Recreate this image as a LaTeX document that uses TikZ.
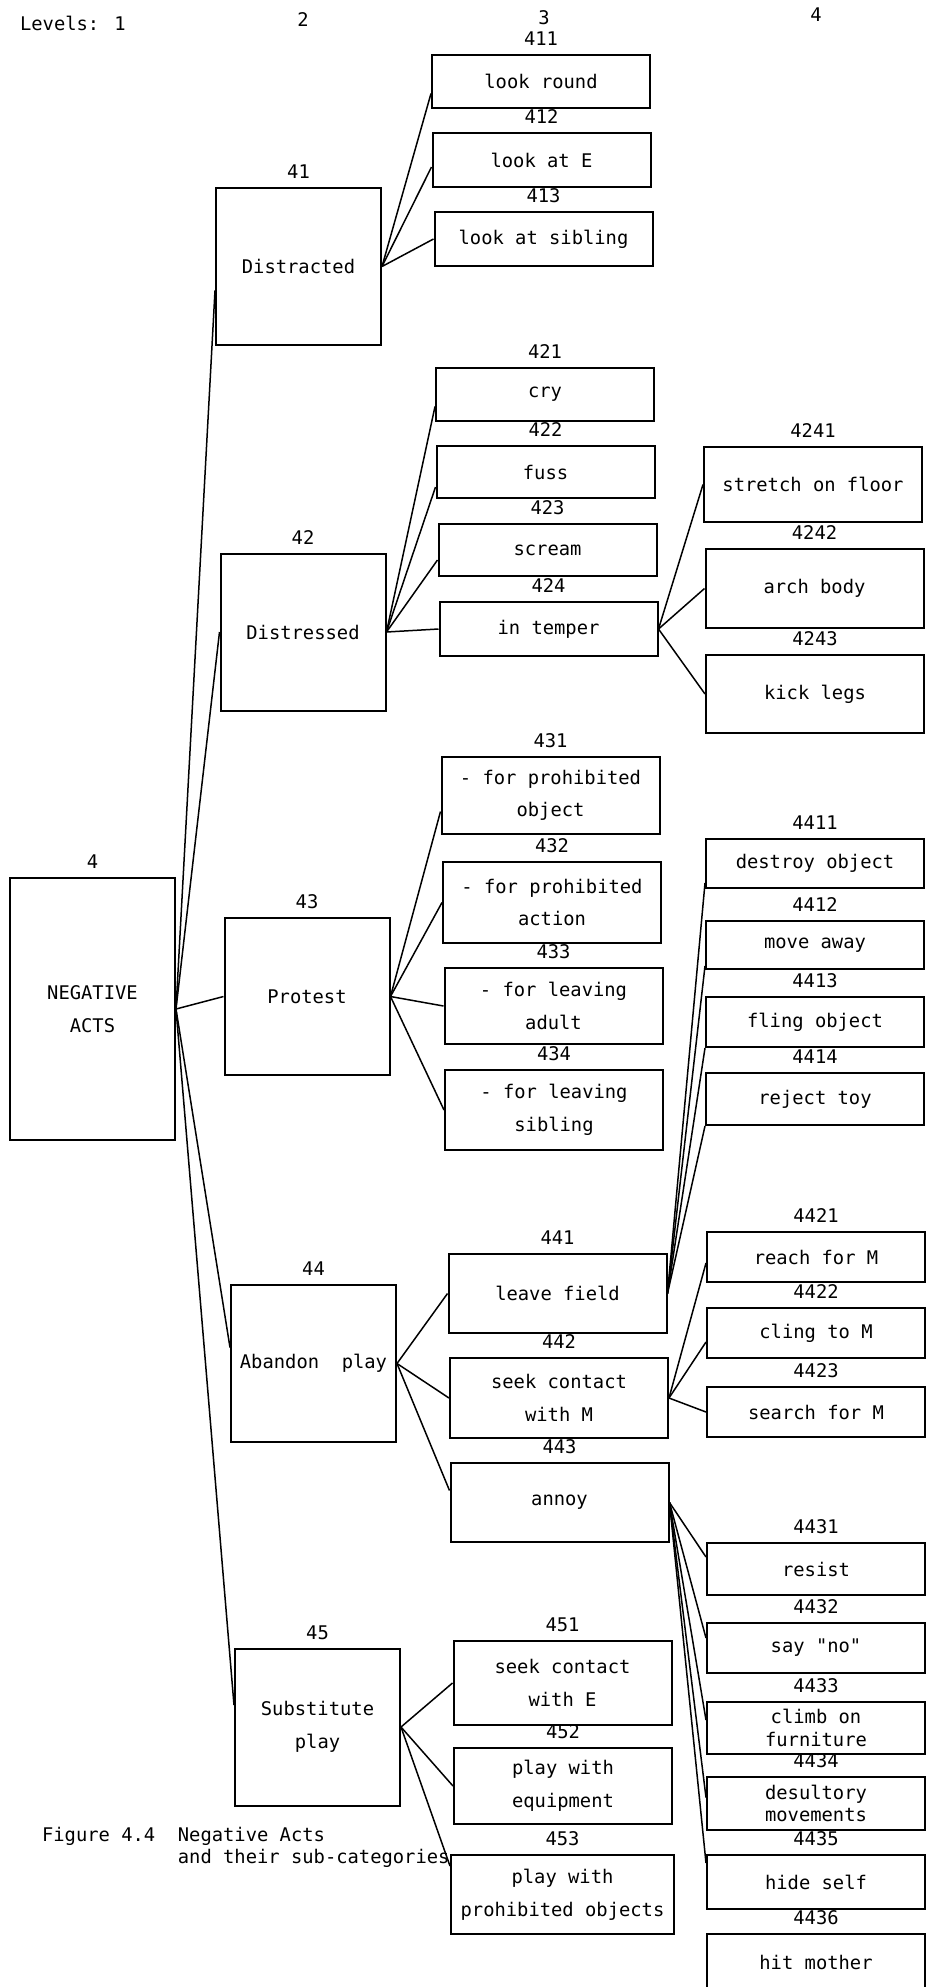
\documentclass[tikz,border=0pt]{standalone}
\usepackage{fontspec}
\setmainfont{DejaVu Sans Mono}
\begin{document}
\begin{tikzpicture}[x=0.5pt,y=-0.5pt,font=\fontsize{9.4}{11.3}\selectfont,
  catbox/.style={draw,line width=1pt,inner sep=0pt,align=center,
    minimum width=109pt,minimum height=#1},
  catbox/.default=26pt,
  midbox/.style={catbox=78.5pt,minimum width=82.5pt},
  every label/.style={label distance=0.5pt},
  link/.style={line width=0.75pt}]
\useasboundingbox (0,0) rectangle (927,1987);

\node[anchor=west] (lvl1) at (13,23) {Levels: 1};
\node (lvl2) at (303,20) {2};
\node (lvl3) at (544,18) {3};
\node (lvl4) at (816,15) {4};

% level 1 and 2
\node[catbox=131pt,minimum width=82.5pt,label=above:4] (4) at (92.5,1009) {NEGATIVE\\[5pt]ACTS};
\node[midbox,label=above:41] (41) at (298.5,266.5) {Distracted};
\node[midbox,label=above:42] (42) at (303,632) {Distressed};
\node[midbox,label=above:43] (43) at (307,996.5) {Protest};
\node[midbox,label=above:44] (44) at (313.5,1363.5) {Abandon\ \ play};
\node[midbox,label=above:45] (45) at (317.5,1727) {Substitute\\[5pt]play};

% level 3
\node[catbox=26.5pt,label=above:411] (411) at (541,81.5) {look round};
\node[catbox=27pt,label=above:412] (412) at (541.5,160) {look at E};
\node[catbox=27pt,label=above:413] (413) at (543.5,239) {look at sibling};
\node[catbox=26.5pt,label=above:421] (421) at (545,394.5) {cry};
\node[catbox,label=above:422] (422) at (545.5,472) {fuss};
\node[catbox,label=above:423] (423) at (547.5,550) {scream};
\node[catbox=27pt,label=above:424] (424) at (548.5,629) {in temper};
\node[catbox=38.5pt,label=above:431] (431) at (550.5,795.5) {- for prohibited\\[5pt]object};
\node[catbox=40.5pt,label=above:432] (432) at (552,902.5) {- for prohibited\\[5pt]action};
\node[catbox=38pt,label=above:433] (433) at (553.5,1006) {- for leaving\\[5pt]adult};
\node[catbox=40pt,label=above:434] (434) at (554,1110) {- for leaving\\[5pt]sibling};
\node[catbox=39.5pt,label=above:441] (441) at (557.5,1293.5) {leave field};
\node[catbox=40pt,label=above:442] (442) at (559,1398) {seek contact\\[5pt]with M};
\node[catbox=39.5pt,label=above:443] (443) at (559.5,1502.5) {annoy};
\node[catbox=42pt,label=above:451] (451) at (562.5,1683) {seek contact\\[5pt]with E};
\node[catbox=38pt,label=above:452] (452) at (563,1786) {play with\\[5pt]equipment};
\node[catbox=39.5pt,minimum width=111.5pt,label=above:453] (453) at (562.5,1894.5) {play with\\[5pt]prohibited objects};

% level 4
\node[catbox=37.5pt,label=above:4241] (4241) at (813,484.5) {stretch on floor};
\node[catbox=39.5pt,label=above:4242] (4242) at (814.5,588.5) {arch body};
\node[catbox=39pt,label=above:4243] (4243) at (815,694) {kick legs};
\node[catbox=24.5pt,label=above:4411] (4411) at (815,863.5) {destroy object};
\node[catbox=24pt,label=above:4412] (4412) at (815,945) {move away};
\node[catbox=25pt,label=above:4413] (4413) at (815,1022) {fling object};
\node[catbox,label=above:4414] (4414) at (815,1099) {reject toy};
\node[catbox=25pt,label=above:4421] (4421) at (816,1257) {reach for M};
\node[catbox=25pt,label=above:4422] (4422) at (816,1333) {cling to M};
\node[catbox=25pt,label=above:4423] (4423) at (816,1412) {search for M};
\node[catbox,label=above:4431] (4431) at (816,1569) {resist};
\node[catbox=25pt,label=above:4432] (4432) at (816,1648) {say \textquotedbl no\textquotedbl};
\node[catbox,label=above:4433] (4433) at (816,1728) {climb on\\furniture};
\node[catbox=26.5pt,label=above:4434] (4434) at (816,1803.5) {desultory\\movements};
\node[catbox=27pt,label=above:4435] (4435) at (816,1882) {hide self};
\node[catbox=28pt,label=above:4436] (4436) at (816,1962) {hit mother};

\node[anchor=west,align=left] (cap) at (35,1847.5) {Figure 4.4\ \ Negative Acts\\\phantom{Figure 4.4\ \ }and their sub-categories};

% connectors
\foreach \c/\s in {41/-12pt,42/0pt,43/0pt,44/8pt,45/11pt}
  \draw[link] (4.east) -- ([yshift=\s]\c.west);
\foreach \c/\s in {411/-6pt,412/-3.5pt,413/0pt}
  \draw[link] (41.east) -- ([yshift=\s]\c.west);
\foreach \c/\s in {421/-6pt,422/-7.5pt,423/-5pt,424/0pt}
  \draw[link] (42.east) -- ([yshift=\s]\c.west);
\foreach \c/\s in {431/-8pt,432/0pt,433/0pt,434/0pt}
  \draw[link] (43.east) -- ([yshift=\s]\c.west);
\foreach \c/\s in {441/0pt,442/0pt,443/6pt}
  \draw[link] (44.east) -- ([yshift=\s]\c.west);
\draw[link] (45.east) -- (451.west);
\draw[link] (45.east) -- (452.west);
\draw[link] (45.east) -- ([yshift=-6pt]453.north west);

\foreach \c in {4241,4242,4243}
  \draw[link] (424.east) -- (\c.west);
\foreach \c/\s in {4411/3pt,4412/2pt,4413/0pt,4414/0pt}
  \draw[link] (441.east) -- ([yshift=\s]\c.south west);
\foreach \c/\s in {4421/-3pt,4422/-4.5pt,4423/0pt}
  \draw[link] (442.east) -- ([yshift=\s]\c.west);
\foreach \c/\s in {4431/6pt,4432/5pt,4433/4pt,4434/3pt,4435/9.5pt}
  \draw[link] (443.east) -- ([yshift=\s]\c.west);

\end{tikzpicture}
\end{document}
